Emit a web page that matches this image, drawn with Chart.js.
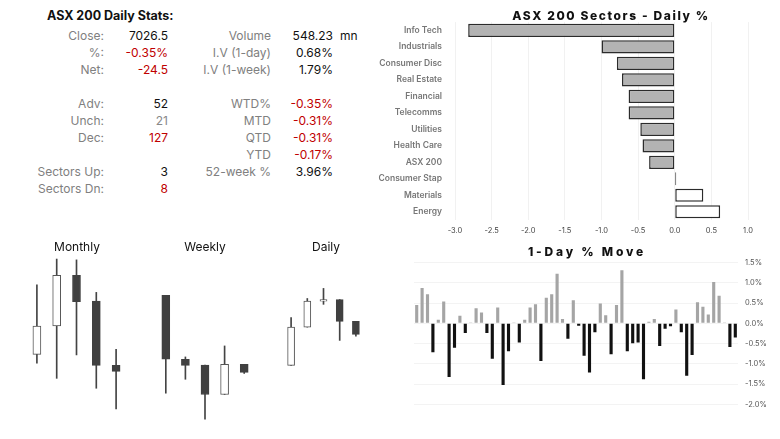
<!DOCTYPE html>
<html>
<head>
<meta charset="utf-8">
<script src="https://cdn.jsdelivr.net/npm/chart.js@4.4.0/dist/chart.umd.min.js"></script>
<style>
  html, body { margin: 0; padding: 0; background: #fff; }
  #page { position: relative; width: 780px; height: 439px; overflow: hidden; font-family: Inter, "Liberation Sans", sans-serif; }
  .t { position: absolute; font-size: 12px; line-height: 16px; white-space: nowrap; color: #111; }
  canvas { position: absolute; }
</style>
</head>
<body>
<div id="page">
  <canvas id="sectorChart" width="400" height="228" style="left:360px;top:12px"></canvas>
  <canvas id="moveChart" width="366" height="165" style="left:414px;top:251px"></canvas>
  <canvas id="monthlyChart" width="99" height="170" style="left:27px;top:255px"></canvas>
  <canvas id="weeklyChart" width="98" height="170" style="left:156px;top:255px"></canvas>
  <canvas id="dailyChart" width="81" height="170" style="left:283px;top:255px"></canvas>
</div>
<script>
// 每日統計表
const statLabelsLeft = ['Close:', '%:', 'Net:', '', 'Adv:', 'Unch:', 'Dec:', '', 'Sectors Up:', 'Sectors Dn:'];
const statValuesLeft = ['7026.5', '-0.35%', '-24.5', '', '52', '21', '127', '', '3', '8'];
const statColorsLeft = ['#111', '#c00000', '#c00000', '', '#111', '#888', '#c00000', '', '#111', '#c00000'];
const statLabelsRight = ['Volume', 'I.V (1-day)', 'I.V (1-week)', '', 'WTD%', 'MTD', 'QTD', 'YTD', '52-week %', ''];
const statValuesRight = ['548.23', '0.68%', '1.79%', '', '-0.35%', '-0.31%', '-0.31%', '-0.17%', '3.96%', ''];
const statColorsRight = ['#111', '#111', '#111', '', '#c00000', '#c00000', '#c00000', '#c00000', '#111', ''];

// 板塊
const sectorNames = ['Info Tech', 'Industrials', 'Consumer Disc', 'Real Estate', 'Financial', 'Telecomms',
    'Utilities', 'Health Care', 'ASX 200', 'Consumer Stap', 'Materials', 'Energy'];
const sectorMoves = [-2.82, -1.00, -0.79, -0.72, -0.63, -0.63, -0.47, -0.44, -0.35, 0.02, 0.39, 0.62];
const sectorTicks = [-3.0, -2.5, -2.0, -1.5, -1.0, -0.5, 0.0, 0.5, 1.0];

// 1日漲跌
const dailyMoves = [0.45, 0.87, 0.72, -0.71, 0.09, 0.54, -1.32, -0.60, 0.19, -0.24, 0.02, 0.37, 0.27, -0.24,
    -0.87, 0.39, -1.52, -0.69, 0.02, -0.47, 0.09, 0.39, 0.47, -0.93, 0.63, 0.72, 1.22, 0.11, -0.38, 0.57,
    -0.06, -0.80, -1.21, -0.22, 0.49, 0.20, -0.76, 0.45, 1.31, -0.69, -0.49, -0.47, -1.38, 0.04, 0.11,
    -0.56, -0.13, -0.07, 0.34, -0.22, -1.29, -0.78, 0.52, 0.41, 0.22, 1.02, 0.68, 0.01, -0.58, -0.35];
const moveTicks = [1.5, 1.0, 0.5, 0.0, -0.5, -1.0, -1.5, -2.0];

// K線
const monthlyOpen = [7088, 7191, 7375, 7281, 7048];
const monthlyHigh = [7340, 7434, 7431, 7313, 7106];
const monthlyLow = [7056, 7001, 7086, 6965, 6890];
const monthlyClose = [7191, 7375, 7279, 7048, 7026.5];

const weeklyOpen = [7264, 7067, 7049, 6958, 7051];
const weeklyHigh = [7264, 7074, 7049, 7108, 7051];
const weeklyLow = [6962, 7005, 6882, 6958, 7023];
const weeklyClose = [7067, 7048, 6958, 7051, 7026.5];

const dailyOpen = [6968, 7040, 7089, 7092, 7051];
const dailyHigh = [7058, 7094, 7113, 7092, 7051];
const dailyLow = [6968, 7040, 7083, 7015, 7023];
const dailyClose = [7040, 7089, 7092, 7051, 7026.5];

Chart.defaults.font.family = 'Inter, "Liberation Sans", sans-serif';
Chart.defaults.animation = false;
Chart.defaults.plugins.legend.display = false;
Chart.defaults.plugins.tooltip.enabled = false;

//#region 文字
const page = document.getElementById('page');
function put(text, x, y, align, style) {
    let d = document.createElement('div');
    d.className = 't';
    d.textContent = text;
    if (align == 'right') {
        d.style.right = (780 - x) + 'px';
    } else if (align == 'center') {
        d.style.left = (x - 150) + 'px';
        d.style.width = '300px';
        d.style.textAlign = 'center';
    } else {
        d.style.left = x + 'px';
    }
    d.style.top = (y - 8) + 'px';
    Object.assign(d.style, style || {});
    page.appendChild(d);
}

put('ASX 200 Daily Stats:', 47, 16, 'left', { fontWeight: '700', fontSize: '12.5px' });
for (let i = 0; i < statLabelsLeft.length; i++) {
    let y = 35.7 + 17 * i;
    if (statLabelsLeft[i] != '') {
        put(statLabelsLeft[i], 104, y, 'right', { color: '#808080' });
        put(statValuesLeft[i], 168, y, 'right', { color: statColorsLeft[i] });
    }
    if (statLabelsRight[i] != '') {
        put(statLabelsRight[i], 271, y, 'right', { color: '#808080' });
        put(statValuesRight[i], 333, y, 'right', { color: statColorsRight[i] });
    }
}
put('mn', 340, 35.7, 'left', {});

put('ASX 200 Sectors - Daily %', 611, 16, 'center', { fontWeight: '800', fontSize: '12px', letterSpacing: '1.6px' });
put('1-Day % Move', 587, 252, 'center', { fontWeight: '800', fontSize: '12px', letterSpacing: '2.8px' });
put('Monthly', 77, 247, 'center', {});
put('Weekly', 205, 247, 'center', {});
put('Daily', 326, 247, 'center', {});
//#endregion

//#region 板塊圖
new Chart(document.getElementById('sectorChart'), {
    type: 'bar',
    data: {
        labels: sectorNames,
        datasets: [{
            data: sectorMoves,
            backgroundColor: sectorMoves.map(v => v < 0 ? '#b3b3b3' : '#ffffff'),
            borderColor: '#2b2b2b',
            borderWidth: 1.5,
            borderSkipped: false,
            barPercentage: 0.8,
            categoryPercentage: 1
        }]
    },
    options: {
        indexAxis: 'y',
        responsive: false,
        devicePixelRatio: 1,
        layout: { padding: { top: 0, right: 12, bottom: 0, left: 0 } },
        scales: {
            x: {
                min: sectorTicks[0],
                max: sectorTicks[sectorTicks.length - 1],
                afterBuildTicks: a => { a.ticks = sectorTicks.map(v => ({ value: v })); },
                ticks: { callback: v => Number(v).toFixed(1), font: { size: 7.5 }, color: '#444', padding: 6 },
                grid: { color: '#f1f1f1', drawTicks: false },
                border: { display: false },
                afterFit: a => { a.height = 20; }
            },
            y: {
                ticks: { font: { size: 8.5, weight: '600' }, color: '#777', padding: 5 },
                grid: { display: false },
                border: { display: false },
                afterFit: a => { a.width = 95; }
            }
        }
    }
});
//#endregion

//#region 1日漲跌圖
new Chart(document.getElementById('moveChart'), {
    type: 'bar',
    data: {
        labels: dailyMoves.map((_, i) => i + 1),
        datasets: [{
            data: dailyMoves,
            backgroundColor: dailyMoves.map(v => v < 0 ? '#111111' : '#a5a5a5'),
            barPercentage: 0.58,
            categoryPercentage: 1
        }]
    },
    options: {
        responsive: false,
        devicePixelRatio: 1,
        scales: {
            x: { display: false },
            y: {
                position: 'right',
                min: -2,
                max: 1.5,
                afterBuildTicks: a => { a.ticks = moveTicks.map(v => ({ value: v })); },
                ticks: { callback: v => Number(v).toFixed(1) + '%', font: { size: 7.5 }, color: '#555', padding: 7 },
                grid: { color: '#f3f3f3', drawTicks: false },
                border: { display: false },
                afterFit: a => { a.width = 42; }
            }
        }
    }
});
//#endregion

//#region K線圖
function candleChart(id, open, high, low, close, yMin, yMax, bodyWidth) {
    let wicks = [];
    let bodies = [];
    for (let i = 0; i < open.length; i++) {
        wicks.push([low[i], high[i]]);
        bodies.push([open[i], close[i]]);
    }
    return new Chart(document.getElementById(id), {
        type: 'bar',
        data: {
            labels: open.map((_, i) => i + 1),
            datasets: [{
                data: bodies,
                backgroundColor: open.map((o, i) => close[i] >= o ? '#ffffff' : '#404040'),
                borderColor: open.map((o, i) => close[i] >= o ? '#555555' : '#404040'),
                borderWidth: 1,
                borderSkipped: false,
                barThickness: bodyWidth,
                grouped: false,
                order: 0
            }, {
                data: wicks,
                backgroundColor: '#444444',
                barThickness: 1,
                grouped: false,
                order: 1
            }]
        },
        options: {
            responsive: false,
            devicePixelRatio: 1,
            scales: {
                x: { display: false },
                y: { display: false, min: yMin, max: yMax }
            }
        }
    });
}

candleChart('monthlyChart', monthlyOpen, monthlyHigh, monthlyLow, monthlyClose, 6831.6, 7448.7, 8);
candleChart('weeklyChart', weeklyOpen, weeklyHigh, weeklyLow, weeklyClose, 6863.7, 7389.0, 8);
candleChart('dailyChart', dailyOpen, dailyHigh, dailyLow, dailyClose, 6855.5, 7176.0, 7);
//#endregion
</script>
</body>
</html>
